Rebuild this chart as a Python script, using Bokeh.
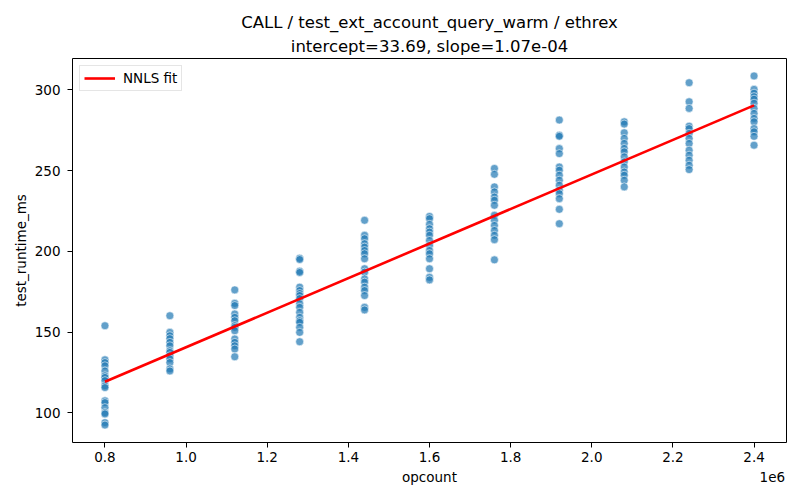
from bokeh.plotting import figure
from bokeh.models import (ColumnDataSource, Title, Range1d, FixedTicker,
                          CustomJSTickFormatter, Legend, LegendItem, LinearAxis)
from bokeh.embed import file_html
from bokeh.resources import INLINE

# ---------------- data ----------------
title_line1 = "CALL / test_ext_account_query_warm / ethrex"
intercept = 33.69
slope = 1.07e-04
title_line2 = "intercept=%.2f, slope=%.2e" % (intercept, slope)
x_label = "opcount"
x_offset_text = "1e6"
y_label = "test_runtime_ms"

opcount_levels = [800000, 960000, 1120000, 1280000, 1440000, 1600000,
                  1760000, 1920000, 2080000, 2240000, 2400000]

rt_0800k = [154.0, 132.9, 131.2, 129.2, 126.0, 123.0, 122.0, 120.0, 116.8,
            115.7, 107.5, 106.4, 103.3, 100.2, 99.4, 94.0, 92.5]
rt_0960k = [160.2, 149.9, 147.8, 146.0, 143.7, 141.6, 138.5, 137.5, 135.4,
            133.5, 131.2, 127.3, 126.0]
rt_1120k = [176.2, 167.9, 166.5, 161.3, 159.2, 157.1, 154.0, 153.0, 150.9,
            145.8, 143.7, 141.6, 139.6, 134.8]
rt_1280k = [195.8, 195.0, 187.8, 187.0, 177.9, 175.8, 174.0, 172.7, 170.8,
            167.7, 165.4, 162.3, 159.2, 157.1, 156.1, 153.0, 149.9, 144.1]
rt_1440k = [219.3, 210.0, 207.9, 204.8, 202.7, 200.6, 198.6, 195.5, 189.3,
            187.2, 183.0, 181.0, 177.9, 175.8, 172.7, 165.4, 163.8]
rt_1600k = [221.7, 220.3, 216.8, 214.1, 212.0, 210.0, 206.8, 203.7, 200.6,
            198.6, 195.5, 189.3, 184.0, 182.4]
rt_1760k = [251.4, 247.8, 240.0, 236.9, 233.7, 231.7, 228.6, 222.4, 219.3,
            216.1, 213.0, 210.0, 207.3, 194.8]
rt_1920k = [281.4, 272.0, 271.3, 263.7, 260.6, 252.3, 250.3, 247.2, 244.1,
            241.0, 237.9, 235.8, 232.7, 226.1, 217.2]
rt_2080k = [280.3, 278.9, 273.5, 270.0, 266.9, 263.8, 261.7, 258.6, 255.5,
            252.3, 249.2, 247.2, 244.1, 240.0]
rt_2240k = [304.5, 292.7, 288.6, 277.6, 276.1, 273.1, 270.0, 266.9, 262.7,
            259.6, 256.5, 253.4, 250.7]
rt_2400k = [308.7, 300.4, 298.0, 295.9, 294.3, 291.8, 288.6, 285.5, 282.4,
            280.3, 276.1, 274.1, 271.3, 265.8]

runtime_groups = [rt_0800k, rt_0960k, rt_1120k, rt_1280k, rt_1440k, rt_1600k,
                  rt_1760k, rt_1920k, rt_2080k, rt_2240k, rt_2400k]

x_ticks = [800000, 1000000, 1200000, 1400000, 1600000, 1800000, 2000000,
           2200000, 2400000]
y_ticks = [100, 150, 200, 250, 300]

# ---------------- build ----------------
xs, ys = [], []
for oc, grp in zip(opcount_levels, runtime_groups):
    for v in grp:
        xs.append(oc)
        ys.append(v)
pts = ColumnDataSource(dict(x=xs, y=ys))

fit_x = [min(opcount_levels), max(opcount_levels)]
fit_y = [intercept + slope * v for v in fit_x]
fit = ColumnDataSource(dict(x=fit_x, y=fit_y))

FONT = "DejaVu Sans"
X0, X1 = 720000, 2480000

p = figure(width=800, height=500, output_backend="svg", toolbar_location=None,
           title=None, x_range=Range1d(X0, X1), y_range=Range1d(81.7, 319.5))
p.min_border_left = 72
p.min_border_right = 14
p.min_border_top = 58
p.min_border_bottom = 58
p.background_fill_color = "white"
p.border_fill_color = "white"
p.outline_line_color = "black"
p.outline_line_width = 1
p.xgrid.visible = False
p.ygrid.visible = False

p.scatter("x", "y", source=pts, size=8.0, fill_color="#1f77b4",
          line_color="white", line_width=0.7, fill_alpha=0.7, line_alpha=0.8)
r_fit = p.line("x", "y", source=fit, line_color="red", line_width=2.6)


def style_axis(ax):
    ax.axis_line_color = None
    ax.major_tick_in = 0
    ax.major_tick_out = 5
    ax.minor_tick_line_color = None
    ax.major_tick_line_color = "black"
    ax.major_label_text_font = FONT
    ax.major_label_text_font_size = "13.5px"
    ax.major_label_text_color = "black"
    ax.axis_label_text_font = FONT
    ax.axis_label_text_font_size = "13.5px"
    ax.axis_label_text_font_style = "normal"
    ax.axis_label_text_color = "black"


style_axis(p.xaxis[0])
style_axis(p.yaxis[0])

p.xaxis.ticker = FixedTicker(ticks=x_ticks)
p.xaxis.formatter = CustomJSTickFormatter(code="return (tick/1e6).toFixed(1);")
p.xaxis.major_label_standoff = 4

p.yaxis.ticker = FixedTicker(ticks=y_ticks)
p.yaxis.axis_label = y_label
p.yaxis.major_label_standoff = 7
p.yaxis.axis_label_standoff = 3

# second row below the x axis: axis label (centred) and offset text (right)
lab_axis = LinearAxis(
    ticker=FixedTicker(ticks=[(X0 + X1) / 2, 2445000]),
    formatter=CustomJSTickFormatter(
        args=dict(lab=x_label, off=x_offset_text),
        code="return tick < 2000000 ? lab : off;"))
style_axis(lab_axis)
lab_axis.major_tick_out = 0
lab_axis.major_tick_line_color = None
lab_axis.major_label_standoff = 4
p.add_layout(lab_axis, "below")

legend = Legend(items=[LegendItem(label="NNLS fit", renderers=[r_fit])],
                location="top_left")
legend.label_text_font = FONT
legend.label_text_font_size = "13.5px"
legend.label_text_color = "black"
legend.glyph_width = 31
legend.glyph_height = 14
legend.label_standoff = 8
legend.padding = 4
legend.spacing = 0
legend.margin = 7
legend.border_line_color = "#cccccc"
legend.border_line_width = 1
legend.background_fill_alpha = 0.8
p.add_layout(legend)

p.add_layout(Title(text=title_line2, align="center", text_font=FONT,
                   text_font_size="16.5px", text_font_style="normal",
                   text_color="black", standoff=6), "above")
p.add_layout(Title(text=title_line1, align="center", text_font=FONT,
                   text_font_size="16.5px", text_font_style="normal",
                   text_color="black", standoff=0), "above")

open("out.html", "w").write(file_html(p, INLINE))
